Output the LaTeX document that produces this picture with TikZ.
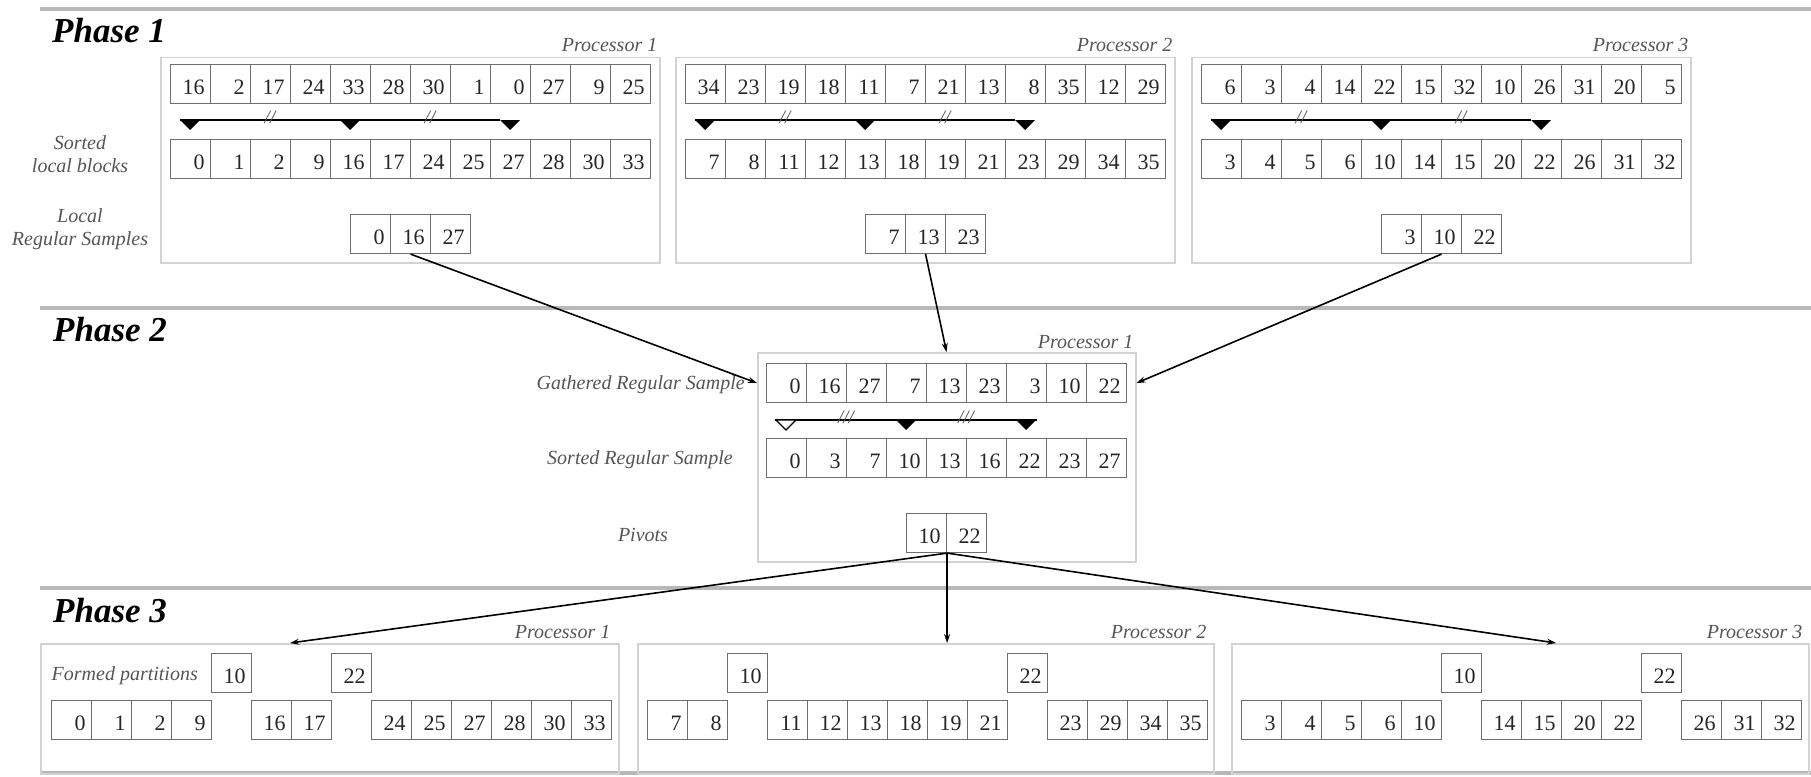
\documentclass[tikz,border=0pt]{standalone}
\usepackage{fontspec}
\setmainfont{Liberation Serif}
\usetikzlibrary{arrows.meta}
\definecolor{cellline}{HTML}{6E6E6E}
\definecolor{boxline}{HTML}{D2D2D2}
\definecolor{phasegray}{HTML}{B8B8B8}
\definecolor{labelgray}{HTML}{555555}
\definecolor{numcol}{HTML}{262626}
\tikzset{
 cell/.style={draw=cellline, line width=1.1pt, minimum width=40pt, minimum height=39pt,
   inner xsep=6pt, inner ysep=0pt, text width=28pt, align=right, text height=21pt, text depth=0pt,
   font=\fontsize{22}{24}\selectfont, text=numcol, anchor=north west},
 procbox/.style={draw=boxline, line width=1.5pt, inner sep=0pt, anchor=north west},
 proclabel/.style={font=\fontsize{20}{22}\selectfont\itshape, text=labelgray, anchor=base east, inner sep=0pt},
 sidelabel/.style={font=\fontsize{20}{22.5}\selectfont\itshape, text=labelgray, align=center, inner sep=0pt},
 phasetitle/.style={font=\fontsize{35}{40}\selectfont\bfseries\itshape, anchor=base west, inner sep=0pt},
 phaseline/.style={draw=phasegray, line width=4pt},
 pivline/.style={line width=1.6pt},
 slashmark/.style={font=\fontsize{19}{20}\selectfont\itshape, text=labelgray, inner sep=0pt},
 arr/.style={line width=1.6pt, -{Stealth[length=9pt,width=6pt]}},
}
\newcommand\cellrun[4]{\foreach \v [count=\i from 0] in {#4} {\node[cell] (#1-\i) at (#2+40*\i,#3) {\v};}}
\newcommand\downtri[2]{\fill (#1-10,#2) -- (#1+10,#2) -- (#1,#2+10) -- cycle;}
\newcommand\phaseoneproc[6]{%
  \node[procbox, minimum width=499pt, minimum height=205pt] (#1box) at (#2-10,57) {};
  \node[proclabel] (#1lab) at ([xshift=-3pt,yshift=5pt]#1box.north east) {#3};
  \cellrun{#1a}{#2}{64}{#4}
  \cellrun{#1b}{#2}{139}{#5}
  \cellrun{#1s}{#2+180}{214}{#6}
  \draw[pivline] (#2+10,120) -- (#2+330,120);
  \downtri{#2+20}{120}\downtri{#2+180}{120}\downtri{#2+340}{120}
  \node[slashmark] (#1m1) at (#2+100,117) {//};
  \node[slashmark] (#1m2) at (#2+260,117) {//};
}
\begin{document}
\begin{tikzpicture}[x=1pt,y=-1pt]
\useasboundingbox (0,0) rectangle (1811,776);
% phase separators
\draw[phaseline] (40,9) -- (1811,9);
\draw[phaseline] (40,308) -- (1811,308);
\draw[phaseline] (40,588) -- (1811,588);
\draw[phaseline] (40,773) -- (1811,773);
% ---------------- Phase 1
\node[phasetitle] (t1) at (52,43) {Phase 1};
\phaseoneproc{p1}{170}{Processor 1}{16,2,17,24,33,28,30,1,0,27,9,25}{0,1,2,9,16,17,24,25,27,28,30,33}{0,16,27}
\phaseoneproc{p2}{685}{Processor 2}{34,23,19,18,11,7,21,13,8,35,12,29}{7,8,11,12,13,18,19,21,23,29,34,35}{7,13,23}
\phaseoneproc{p3}{1201}{Processor 3}{6,3,4,14,22,15,32,10,26,31,20,5}{3,4,5,6,10,14,15,20,22,26,31,32}{3,10,22}
\node[sidelabel] (sl1) at (80,154) {Sorted\\local blocks};
\node[sidelabel] (sl2) at (80,229) {Local\\Regular Samples};
% ---------------- Phase 2
\node[phasetitle] (t2) at (53,341) {Phase 2};
\node[procbox, minimum width=378pt, minimum height=209pt] (q1box) at (757,352) {};
\node[proclabel] (q1lab) at ([xshift=-3pt,yshift=4pt]q1box.north east) {Processor 1};
\cellrun{g}{766}{363}{0,16,27,7,13,23,3,10,22}
\cellrun{s}{766}{438}{0,3,7,10,13,16,22,23,27}
\cellrun{pv}{906}{513}{10,22}
\draw[pivline] (775,420) -- (1037,420);
\filldraw[fill=white, draw=black, line width=1.2pt] (776,420) -- (796,420) -- (786,430) -- cycle;
\downtri{906}{420}\downtri{1026}{420}
\node[slashmark] (q1m1) at (846,417) {///};
\node[slashmark] (q1m2) at (966,417) {///};
\node[sidelabel, anchor=east] (gl1) at (745,385) {Gathered Regular Sample};
\node[sidelabel] (gl2) at (640,460) {Sorted Regular Sample};
\node[sidelabel] (gl3) at (643,535) {Pivots};
\draw[arr] (p1s-1.south) -- (q1box.west |- g-0.center);
\draw[arr] (p2s-1.south) -- (g-4.center |- q1box.north);
\draw[arr] (p3s-1.south) -- (q1box.east |- g-8.center);
% ---------------- Phase 3
\node[phasetitle] (t3) at (53,622) {Phase 3};
\node[procbox, minimum width=578pt, minimum height=130pt] (r1box) at (40,643) {};
\node[procbox, minimum width=576pt, minimum height=130pt] (r2box) at (637,643) {};
\node[procbox, minimum width=577pt, minimum height=130pt] (r3box) at (1231,643) {};
\node[proclabel] (r1lab) at ([xshift=-9pt,yshift=5pt]r1box.north east) {Processor 1};
\node[proclabel] (r2lab) at ([xshift=-8pt,yshift=5pt]r2box.north east) {Processor 2};
\node[proclabel] (r3lab) at ([xshift=-7pt,yshift=5pt]r3box.north east) {Processor 3};
\node[sidelabel, anchor=east] (fp) at (198,676) {Formed partitions};
% P1
\cellrun{r1a}{51}{700}{0,1,2,9}
\cellrun{r1x}{211}{653}{10}
\cellrun{r1b}{251}{700}{16,17}
\cellrun{r1y}{331}{653}{22}
\cellrun{r1c}{371}{700}{24,25,27,28,30,33}
% P2
\cellrun{r2a}{647}{700}{7,8}
\cellrun{r2x}{727}{653}{10}
\cellrun{r2b}{767}{700}{11,12,13,18,19,21}
\cellrun{r2y}{1007}{653}{22}
\cellrun{r2c}{1047}{700}{23,29,34,35}
% P3
\cellrun{r3a}{1241}{700}{3,4,5,6,10}
\cellrun{r3x}{1441}{653}{10}
\cellrun{r3b}{1481}{700}{14,15,20,22}
\cellrun{r3y}{1641}{653}{22}
\cellrun{r3c}{1681}{700}{26,31,32}
\coordinate (e1) at (290,643);
\coordinate (e3) at (1556,643);
\draw[arr] (pv-0.south east) -- (e1);
\draw[arr] (pv-0.south east) -- (pv-0.south east |- r2box.north);
\draw[arr] (pv-0.south east) -- (e3);
\end{tikzpicture}
\end{document}
